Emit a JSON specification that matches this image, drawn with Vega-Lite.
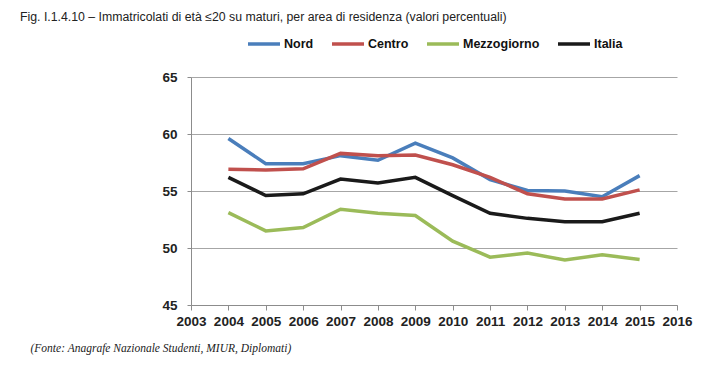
{
  "$schema": "https://vega.github.io/schema/vega-lite/v6.json",
  "autosize": "none",
  "width": 486,
  "height": 228,
  "padding": {"left": 191, "top": 77, "right": 43, "bottom": 69},
  "background": "white",
  "title": {
    "text": "Fig. I.1.4.10 – Immatricolati di età ≤20 su maturi, per area di residenza (valori percentuali)",
    "anchor": "start",
    "frame": "group",
    "dx": -171,
    "offset": 3,
    "font": "Liberation Sans",
    "fontSize": 12.3,
    "fontWeight": "normal",
    "color": "#222"
  },
  "data": {
    "values": [
      {"year": 2004, "area": "Nord", "value": 59.6},
      {"year": 2005, "area": "Nord", "value": 57.4},
      {"year": 2006, "area": "Nord", "value": 57.4},
      {"year": 2007, "area": "Nord", "value": 58.1},
      {"year": 2008, "area": "Nord", "value": 57.7},
      {"year": 2009, "area": "Nord", "value": 59.2},
      {"year": 2010, "area": "Nord", "value": 57.9},
      {"year": 2011, "area": "Nord", "value": 56.0},
      {"year": 2012, "area": "Nord", "value": 55.05},
      {"year": 2013, "area": "Nord", "value": 55.0},
      {"year": 2014, "area": "Nord", "value": 54.5},
      {"year": 2015, "area": "Nord", "value": 56.35},
      {"year": 2004, "area": "Centro", "value": 56.9},
      {"year": 2005, "area": "Centro", "value": 56.85},
      {"year": 2006, "area": "Centro", "value": 56.95},
      {"year": 2007, "area": "Centro", "value": 58.3},
      {"year": 2008, "area": "Centro", "value": 58.1},
      {"year": 2009, "area": "Centro", "value": 58.15},
      {"year": 2010, "area": "Centro", "value": 57.3},
      {"year": 2011, "area": "Centro", "value": 56.2},
      {"year": 2012, "area": "Centro", "value": 54.75},
      {"year": 2013, "area": "Centro", "value": 54.3},
      {"year": 2014, "area": "Centro", "value": 54.3},
      {"year": 2015, "area": "Centro", "value": 55.1},
      {"year": 2004, "area": "Mezzogiorno", "value": 53.1},
      {"year": 2005, "area": "Mezzogiorno", "value": 51.5},
      {"year": 2006, "area": "Mezzogiorno", "value": 51.8},
      {"year": 2007, "area": "Mezzogiorno", "value": 53.4},
      {"year": 2008, "area": "Mezzogiorno", "value": 53.05},
      {"year": 2009, "area": "Mezzogiorno", "value": 52.85},
      {"year": 2010, "area": "Mezzogiorno", "value": 50.6},
      {"year": 2011, "area": "Mezzogiorno", "value": 49.2},
      {"year": 2012, "area": "Mezzogiorno", "value": 49.55},
      {"year": 2013, "area": "Mezzogiorno", "value": 48.95},
      {"year": 2014, "area": "Mezzogiorno", "value": 49.4},
      {"year": 2015, "area": "Mezzogiorno", "value": 49.0},
      {"year": 2004, "area": "Italia", "value": 56.2},
      {"year": 2005, "area": "Italia", "value": 54.6},
      {"year": 2006, "area": "Italia", "value": 54.75},
      {"year": 2007, "area": "Italia", "value": 56.05},
      {"year": 2008, "area": "Italia", "value": 55.7},
      {"year": 2009, "area": "Italia", "value": 56.2},
      {"year": 2010, "area": "Italia", "value": 54.6},
      {"year": 2011, "area": "Italia", "value": 53.05},
      {"year": 2012, "area": "Italia", "value": 52.6},
      {"year": 2013, "area": "Italia", "value": 52.3},
      {"year": 2014, "area": "Italia", "value": 52.3},
      {"year": 2015, "area": "Italia", "value": 53.05}
    ]
  },
  "mark": {"type": "line", "strokeWidth": 3.5, "strokeJoin": "miter"},
  "encoding": {
    "x": {
      "field": "year",
      "type": "quantitative",
      "scale": {"domain": [2003, 2016], "nice": false, "zero": false},
      "axis": {
        "values": [2003, 2004, 2005, 2006, 2007, 2008, 2009, 2010, 2011, 2012, 2013, 2014, 2015, 2016],
        "format": "d",
        "grid": false,
        "domainColor": "#8c8c8c",
        "tickColor": "#8c8c8c",
        "tickSize": 5,
        "labelFont": "Liberation Sans",
        "labelFontSize": 13.5,
        "labelFontWeight": "bold",
        "labelColor": "#222",
        "labelPadding": 4,
        "labelFlush": false,
        "title": "(Fonte: Anagrafe Nazionale Studenti, MIUR, Diplomati)",
        "titleFont": "Liberation Serif",
        "titleFontStyle": "italic",
        "titleFontWeight": "normal",
        "titleFontSize": 11.5,
        "titleColor": "#222",
        "titleAnchor": "start",
        "titleAlign": "left",
        "titleBaseline": "middle",
        "titleX": -161,
        "titleY": 43
      }
    },
    "y": {
      "field": "value",
      "type": "quantitative",
      "scale": {"domain": [45, 65], "nice": false, "zero": false},
      "axis": {
        "values": [45, 50, 55, 60, 65],
        "grid": true,
        "gridColor": "#a6a6a6",
        "gridWidth": 1,
        "domainColor": "#8c8c8c",
        "tickColor": "#8c8c8c",
        "tickSize": 4,
        "labelFont": "Liberation Sans",
        "labelFontSize": 13.5,
        "labelFontWeight": "bold",
        "labelColor": "#222",
        "labelPadding": 10,
        "title": null
      }
    },
    "color": {
      "field": "area",
      "type": "nominal",
      "scale": {
        "domain": ["Nord", "Centro", "Mezzogiorno", "Italia"],
        "range": ["#4a7ebb", "#c0504d", "#9bbb59", "#1a1a1a"]
      },
      "legend": {
        "orient": "none",
        "direction": "horizontal",
        "legendX": 55,
        "legendY": -51,
        "title": null,
        "symbolType": "stroke",
        "symbolSize": 1024,
        "symbolStrokeWidth": 3.5,
        "labelFont": "Liberation Sans",
        "labelFontSize": 12.5,
        "labelFontWeight": "bold",
        "labelColor": "#111",
        "labelOffset": 2,
        "columnPadding": 11
      }
    }
  },
  "config": {"view": {"stroke": null}}
}
